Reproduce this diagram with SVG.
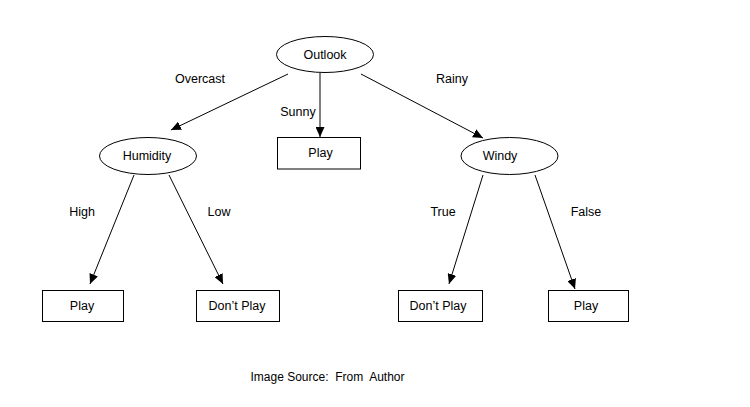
<svg xmlns="http://www.w3.org/2000/svg" width="750" height="407" viewBox="0 0 750 407">
<style>
.n{fill:#fff;stroke:#000;stroke-width:1}
.t{font-family:"Liberation Sans",Arial,sans-serif;font-size:12.5px;fill:#000;text-anchor:middle}
.c{stroke:#000;stroke-width:1;fill:none;marker-end:url(#ah)}
</style>
<defs>
<marker id="ah" markerUnits="userSpaceOnUse" markerWidth="11" markerHeight="9" refX="10" refY="4.5" orient="auto">
<path d="M0,0 L10,4.5 L0,9 z" fill="#000"/>
</marker>
</defs>
<rect width="750" height="407" fill="#fff"/>
<g id="connectors">
<line class="c" x1="288" y1="74" x2="171" y2="130"/>
<line class="c" x1="320" y1="73" x2="320" y2="137"/>
<line class="c" x1="361" y1="74" x2="483" y2="138"/>
<line class="c" x1="134" y1="175" x2="90" y2="284"/>
<line class="c" x1="169" y1="175" x2="223" y2="284"/>
<line class="c" x1="483" y1="175" x2="449" y2="284"/>
<line class="c" x1="535" y1="175" x2="575" y2="289"/>
<text class="t" x="200" y="82.5">Overcast</text>
<text class="t" x="298" y="115.5">Sunny</text>
<text class="t" x="452" y="82.5">Rainy</text>
<text class="t" x="82" y="215.5">High</text>
<text class="t" x="219" y="215.5">Low</text>
<text class="t" x="443" y="215.5">True</text>
<text class="t" x="586" y="215.5">False</text>
</g>
<g id="outlook">
<ellipse class="n" cx="325" cy="54.5" rx="48.5" ry="18"/>
<text class="t" x="325" y="58.5">Outlook</text>
</g>
<g id="play-sunny">
<rect class="n" x="277.5" y="137.5" width="83" height="31.5"/>
<text class="t" x="320.5" y="156.5">Play</text>
</g>
<g id="humidity">
<ellipse class="n" cx="148" cy="156" rx="48.5" ry="18.5"/>
<text class="t" x="147" y="160">Humidity</text>
</g>
<g id="windy">
<ellipse class="n" cx="509.5" cy="156" rx="48.5" ry="18.5"/>
<text class="t" x="500" y="160">Windy</text>
</g>
<g id="play-high">
<rect class="n" x="42.5" y="290.5" width="81" height="31"/>
<text class="t" x="82" y="309.5">Play</text>
</g>
<g id="dontplay-low">
<rect class="n" x="196.5" y="290.5" width="83" height="31"/>
<text class="t" x="237" y="309.5">Don’t Play</text>
</g>
<g id="dontplay-true">
<rect class="n" x="398.5" y="290.5" width="84" height="31"/>
<text class="t" x="438" y="309.5">Don’t Play</text>
</g>
<g id="play-false">
<rect class="n" x="548.5" y="290.5" width="80" height="31"/>
<text class="t" x="586" y="309.5">Play</text>
</g>
<text class="t" x="327.5" y="381" style="font-size:12px" xml:space="preserve">Image Source:  From  Author</text>
</svg>
